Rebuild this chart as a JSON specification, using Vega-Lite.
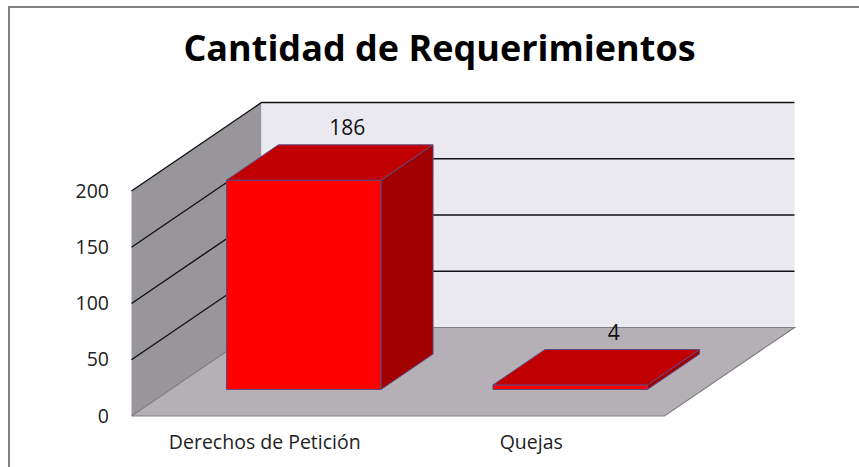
{"$schema":"https://vega.github.io/schema/vega-lite/v6.json","width":859,"height":467,"padding":0,"autosize":{"type":"none"},"background":"white","config":{"view":{"stroke":null},"font":"Open Sans"},
"title":{"text":"Cantidad de Requerimientos","font":"Open Sans","fontSize":36,"fontWeight":"bold","color":"#000000","anchor":"middle","dx":10,"offset":-69},
"datasets":{"bars":[{"cat":"Derechos de Petición","pos":0.5,"value":186},{"cat":"Quejas","pos":1.5,"value":4}],
"planes":[
{"shape":"wall","k":0,"x":0,"v":0,"d":0},{"shape":"wall","k":1,"x":0,"v":200,"d":0},{"shape":"wall","k":2,"x":0,"v":200,"d":1},{"shape":"wall","k":3,"x":0,"v":0,"d":1},
{"shape":"floor","k":0,"x":0,"v":0,"d":0},{"shape":"floor","k":1,"x":2,"v":0,"d":0},{"shape":"floor","k":2,"x":2,"v":0,"d":1},{"shape":"floor","k":3,"x":0,"v":0,"d":1},
{"shape":"back","k":0,"x":0,"v":0,"d":1},{"shape":"back","k":1,"x":2,"v":0,"d":1},{"shape":"back","k":2,"x":2,"v":200,"d":1},{"shape":"back","k":3,"x":0,"v":200,"d":1}],
"grid":[
{"t":50,"k":0,"x":0,"d":0},{"t":50,"k":1,"x":0,"d":1},{"t":50,"k":2,"x":2,"d":1},
{"t":100,"k":0,"x":0,"d":0},{"t":100,"k":1,"x":0,"d":1},{"t":100,"k":2,"x":2,"d":1},
{"t":150,"k":0,"x":0,"d":0},{"t":150,"k":1,"x":0,"d":1},{"t":150,"k":2,"x":2,"d":1},
{"t":200,"k":0,"x":0,"d":0},{"t":200,"k":1,"x":0,"d":1},{"t":200,"k":2,"x":2,"d":1}],
"floorEdge":[{"k":0,"x":0,"d":0},{"k":1,"x":2,"d":0},{"k":2,"x":2,"d":1},{"k":3,"x":0,"d":1},{"k":4,"x":0,"d":0}],
"frame":[{"k":0,"sx":-0.4597,"sv":-45.33},{"k":1,"sx":-0.4597,"sv":363.6},{"k":2,"sx":2.73,"sv":363.6}]},
"encoding":{
"x":{"field":"sx","type":"quantitative","scale":{"domain":[-0.49343,2.72983],"nice":false,"zero":false},"axis":null},
"y":{"field":"sv","type":"quantitative","scale":{"domain":[-45.33,369.78],"nice":false,"zero":false},"axis":{"values":[0,50,100,150,200],"title":null,"grid":false,"ticks":false,"domain":false,"offset":-131.5,"labelPadding":23,"labelFontSize":19.5,"labelColor":"#222222","labelFont":"Open Sans"}},
"order":{"field":"k","type":"quantitative"}},
"layer":[
{"data":{"name":"frame"},"mark":{"type":"line","stroke":"#808080","strokeWidth":2,"clip":false},"encoding":{}},
{"data":{"name":"planes"},"transform":[{"filter":"datum.shape==='wall'"},{"calculate":"datum.x+0.4878*datum.d","as":"sx"},{"calculate":"datum.v+78.67*datum.d","as":"sv"}],"mark":{"type":"line","fill":"#98969b","strokeWidth":0},"encoding":{}},
{"data":{"name":"planes"},"transform":[{"filter":"datum.shape==='back'"},{"calculate":"datum.x+0.4878*datum.d","as":"sx"},{"calculate":"datum.v+78.67*datum.d","as":"sv"}],"mark":{"type":"line","fill":"#ebe9f0","strokeWidth":0},"encoding":{}},
{"data":{"name":"planes"},"transform":[{"filter":"datum.shape==='floor'"},{"calculate":"datum.x+0.4878*datum.d","as":"sx"},{"calculate":"datum.v+78.67*datum.d","as":"sv"}],"mark":{"type":"line","fill":"#b4b0b5","strokeWidth":0},"encoding":{}},
{"data":{"name":"floorEdge"},"transform":[{"calculate":"datum.x+0.4878*datum.d","as":"sx"},{"calculate":"78.67*datum.d","as":"sv"}],"mark":{"type":"line","stroke":"#7f7f7f","strokeWidth":1.2},"encoding":{}},
{"data":{"name":"grid"},"transform":[{"calculate":"datum.x+0.4878*datum.d","as":"sx"},{"calculate":"datum.t+78.67*datum.d","as":"sv"}],"mark":{"type":"line","stroke":"#111111","strokeWidth":1.4},"encoding":{"detail":{"field":"t"}}},
{"data":{"name":"bars"},"transform":[{"calculate":"[0,1,2,3,4]","as":"k"},{"flatten":["k"]},{"calculate":"datum.pos+[-0.29,0.29,0.29,-0.29,-0.29][datum.k]+0.4878*0.3","as":"sx"},{"calculate":"[0,0,datum.value,datum.value,0][datum.k]+78.67*0.3","as":"sv"}],"mark":{"type":"line","fill":"#ff0000","stroke":"#5f4a86","strokeWidth":1},"encoding":{"detail":{"field":"cat"}}},
{"data":{"name":"bars"},"transform":[{"calculate":"[0,1,2,3,4]","as":"k"},{"flatten":["k"]},{"calculate":"[0.3,0.7,0.7,0.3,0.3][datum.k]","as":"dd"},{"calculate":"datum.pos+0.29+0.4878*datum.dd","as":"sx"},{"calculate":"[0,0,datum.value,datum.value,0][datum.k]+78.67*datum.dd","as":"sv"}],"mark":{"type":"line","fill":"#a00000","stroke":"#5f4a86","strokeWidth":1},"encoding":{"detail":{"field":"cat"}}},
{"data":{"name":"bars"},"transform":[{"calculate":"[0,1,2,3,4]","as":"k"},{"flatten":["k"]},{"calculate":"[0.3,0.3,0.7,0.7,0.3][datum.k]","as":"dd"},{"calculate":"datum.pos+[-0.29,0.29,0.29,-0.29,-0.29][datum.k]+0.4878*datum.dd","as":"sx"},{"calculate":"datum.value+78.67*datum.dd","as":"sv"}],"mark":{"type":"line","fill":"#c00000","stroke":"#5f4a86","strokeWidth":1},"encoding":{"detail":{"field":"cat"}}},
{"data":{"name":"bars"},"transform":[{"calculate":"datum.pos+0.4878*0.635","as":"sx"},{"calculate":"datum.value+78.67*0.7","as":"sv"}],"mark":{"type":"text","fontSize":21,"font":"Open Sans","color":"#111111","baseline":"middle","dy":-16},"encoding":{"text":{"field":"value","type":"quantitative"},"order":null}},
{"data":{"name":"bars"},"transform":[{"calculate":"datum.pos","as":"sx"},{"calculate":"-24","as":"sv"}],"mark":{"type":"text","fontSize":19.5,"font":"Open Sans","color":"#222222","baseline":"middle"},"encoding":{"text":{"field":"cat","type":"nominal"},"order":null}}
]}
